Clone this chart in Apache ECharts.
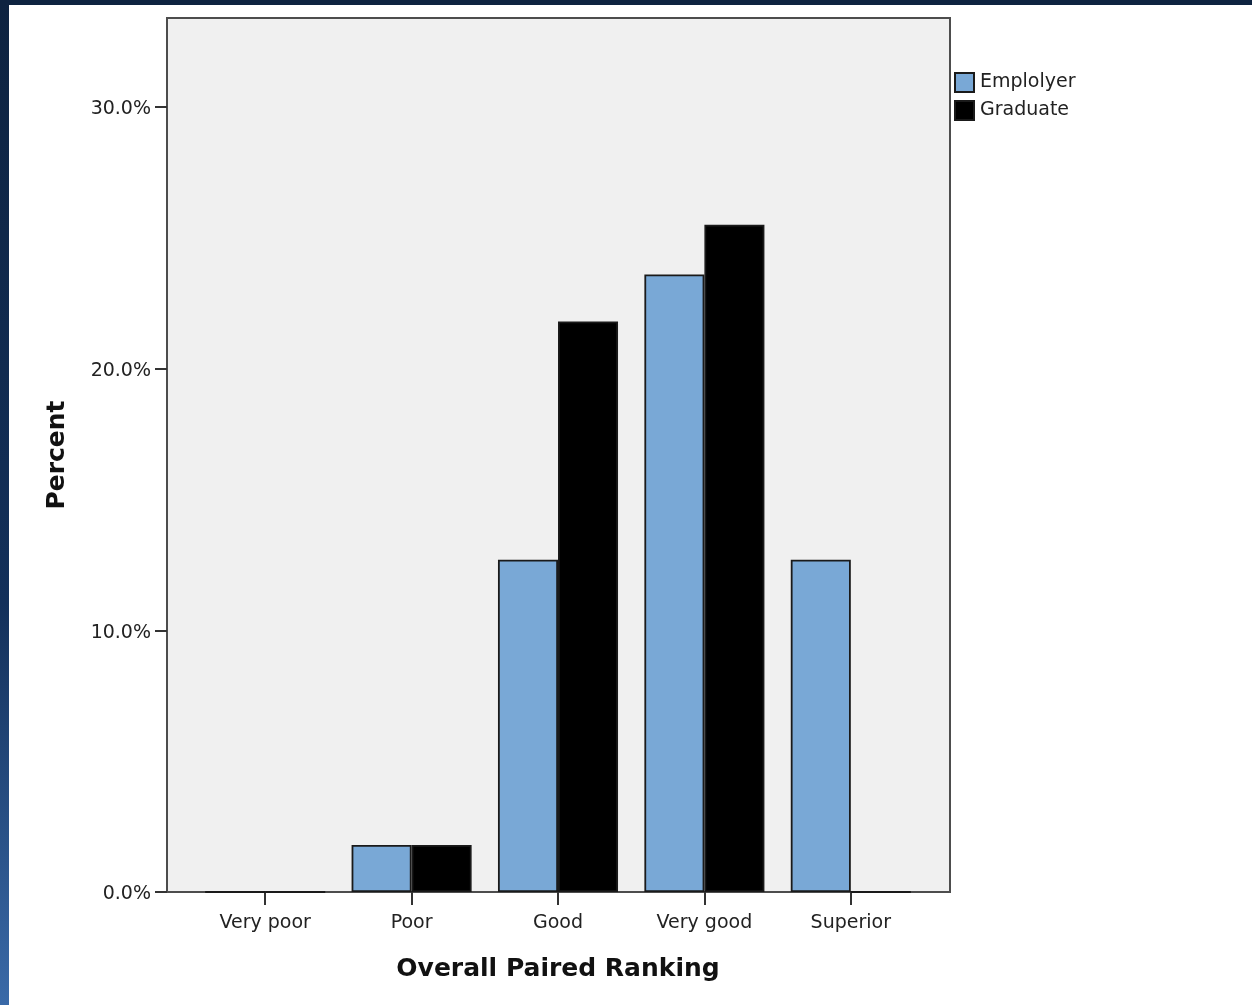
<!DOCTYPE html>
<html>
<head>
<meta charset="utf-8">
<script src="https://cdn.jsdelivr.net/npm/echarts@6/dist/echarts.min.js"></script>
<style>
html,body{margin:0;padding:0;background:#fff;}
#chart{width:1252px;height:1005px;position:absolute;left:0;top:0;}
#bt{position:absolute;left:0;top:0;width:1252px;height:5px;background:#0e2340;}
#bl{position:absolute;left:0;top:0;width:9px;height:1005px;background:linear-gradient(#0e2340 0%,#13305a 60%,#3a6aa8 100%);}
</style>
</head>
<body>
<div id="chart"></div>
<div id="bt"></div>
<div id="bl"></div>
<script>
const categories = ['Very poor', 'Poor', 'Good', 'Very good', 'Superior'];
const employerValues = [0, 1.8, 12.7, 23.6, 12.7];
const graduateValues = [0, 1.8, 21.8, 25.5, 0];
const yTicks = [0, 10, 20, 30];

const FONT = 'DejaVu Sans';
const chart = echarts.init(document.getElementById('chart'));
chart.setOption({
  animation: false,
  textStyle: {fontFamily: FONT},
  legend: {
    orient: 'vertical', left: 949, top: 67,
    itemWidth: 19, itemHeight: 19, itemGap: 7,
    icon: 'rect',
    textStyle: {fontFamily: FONT, fontSize: 19, color: '#222', padding: [0, 0, 0, 1]},
    data: ['Emplolyer', 'Graduate']
  },
  grid: [
    {left: 167, top: 18, width: 783, height: 874, show: true, backgroundColor: '#f0f0f0', borderColor: '#4d4d4d', borderWidth: 2, z: 0},
    {left: 192, top: 18, width: 732, height: 874}
  ],
  xAxis: [
    {gridIndex: 0, type: 'value', show: false, min: 0, max: 1},
    {
      gridIndex: 1, type: 'category', data: categories,
      axisLine: {show: false},
      axisTick: {show: true, alignWithLabel: true, length: 13, lineStyle: {color: '#333', width: 2}},
      axisLabel: {fontFamily: FONT, fontSize: 19, color: '#222', margin: 22},
      name: 'Overall Paired Ranking', nameLocation: 'middle', nameGap: 65,
      nameTextStyle: {fontFamily: FONT, fontSize: 25, fontWeight: 'bold', color: '#111'}
    }
  ],
  yAxis: [
    {gridIndex: 0, type: 'value', show: false, min: 0, max: 1},
    {
      gridIndex: 1, type: 'value', min: 0, max: 33.4, offset: 25,
      splitLine: {show: false},
      axisLine: {show: false},
      axisTick: {show: true, length: 12, customValues: yTicks, lineStyle: {color: '#333', width: 2}},
      axisLabel: {margin: 16, customValues: yTicks,
        formatter: v => '{a|' + v.toFixed(1) + '%}',
        rich: {a: {fontFamily: FONT, fontSize: 19, color: '#222', padding: [5, 0, 0, 0]}}},
      name: 'Percent', nameLocation: 'middle', nameGap: 97, nameRotate: 90,
      nameTextStyle: {fontFamily: FONT, fontSize: 25, fontWeight: 'bold', color: '#111'}
    }
  ],
  series: [
    {
      name: 'Emplolyer', type: 'bar', xAxisIndex: 1, yAxisIndex: 1,
      data: employerValues, barGap: '0%', barCategoryGap: '18%',
      itemStyle: {color: '#79a8d6', borderColor: '#1a1a1a', borderWidth: 1.8}
    },
    {
      name: 'Graduate', type: 'bar', xAxisIndex: 1, yAxisIndex: 1,
      data: graduateValues, barGap: '0%', barCategoryGap: '18%',
      itemStyle: {color: '#000000', borderColor: '#1a1a1a', borderWidth: 1.8}
    }
  ]
});
</script>
</body>
</html>
